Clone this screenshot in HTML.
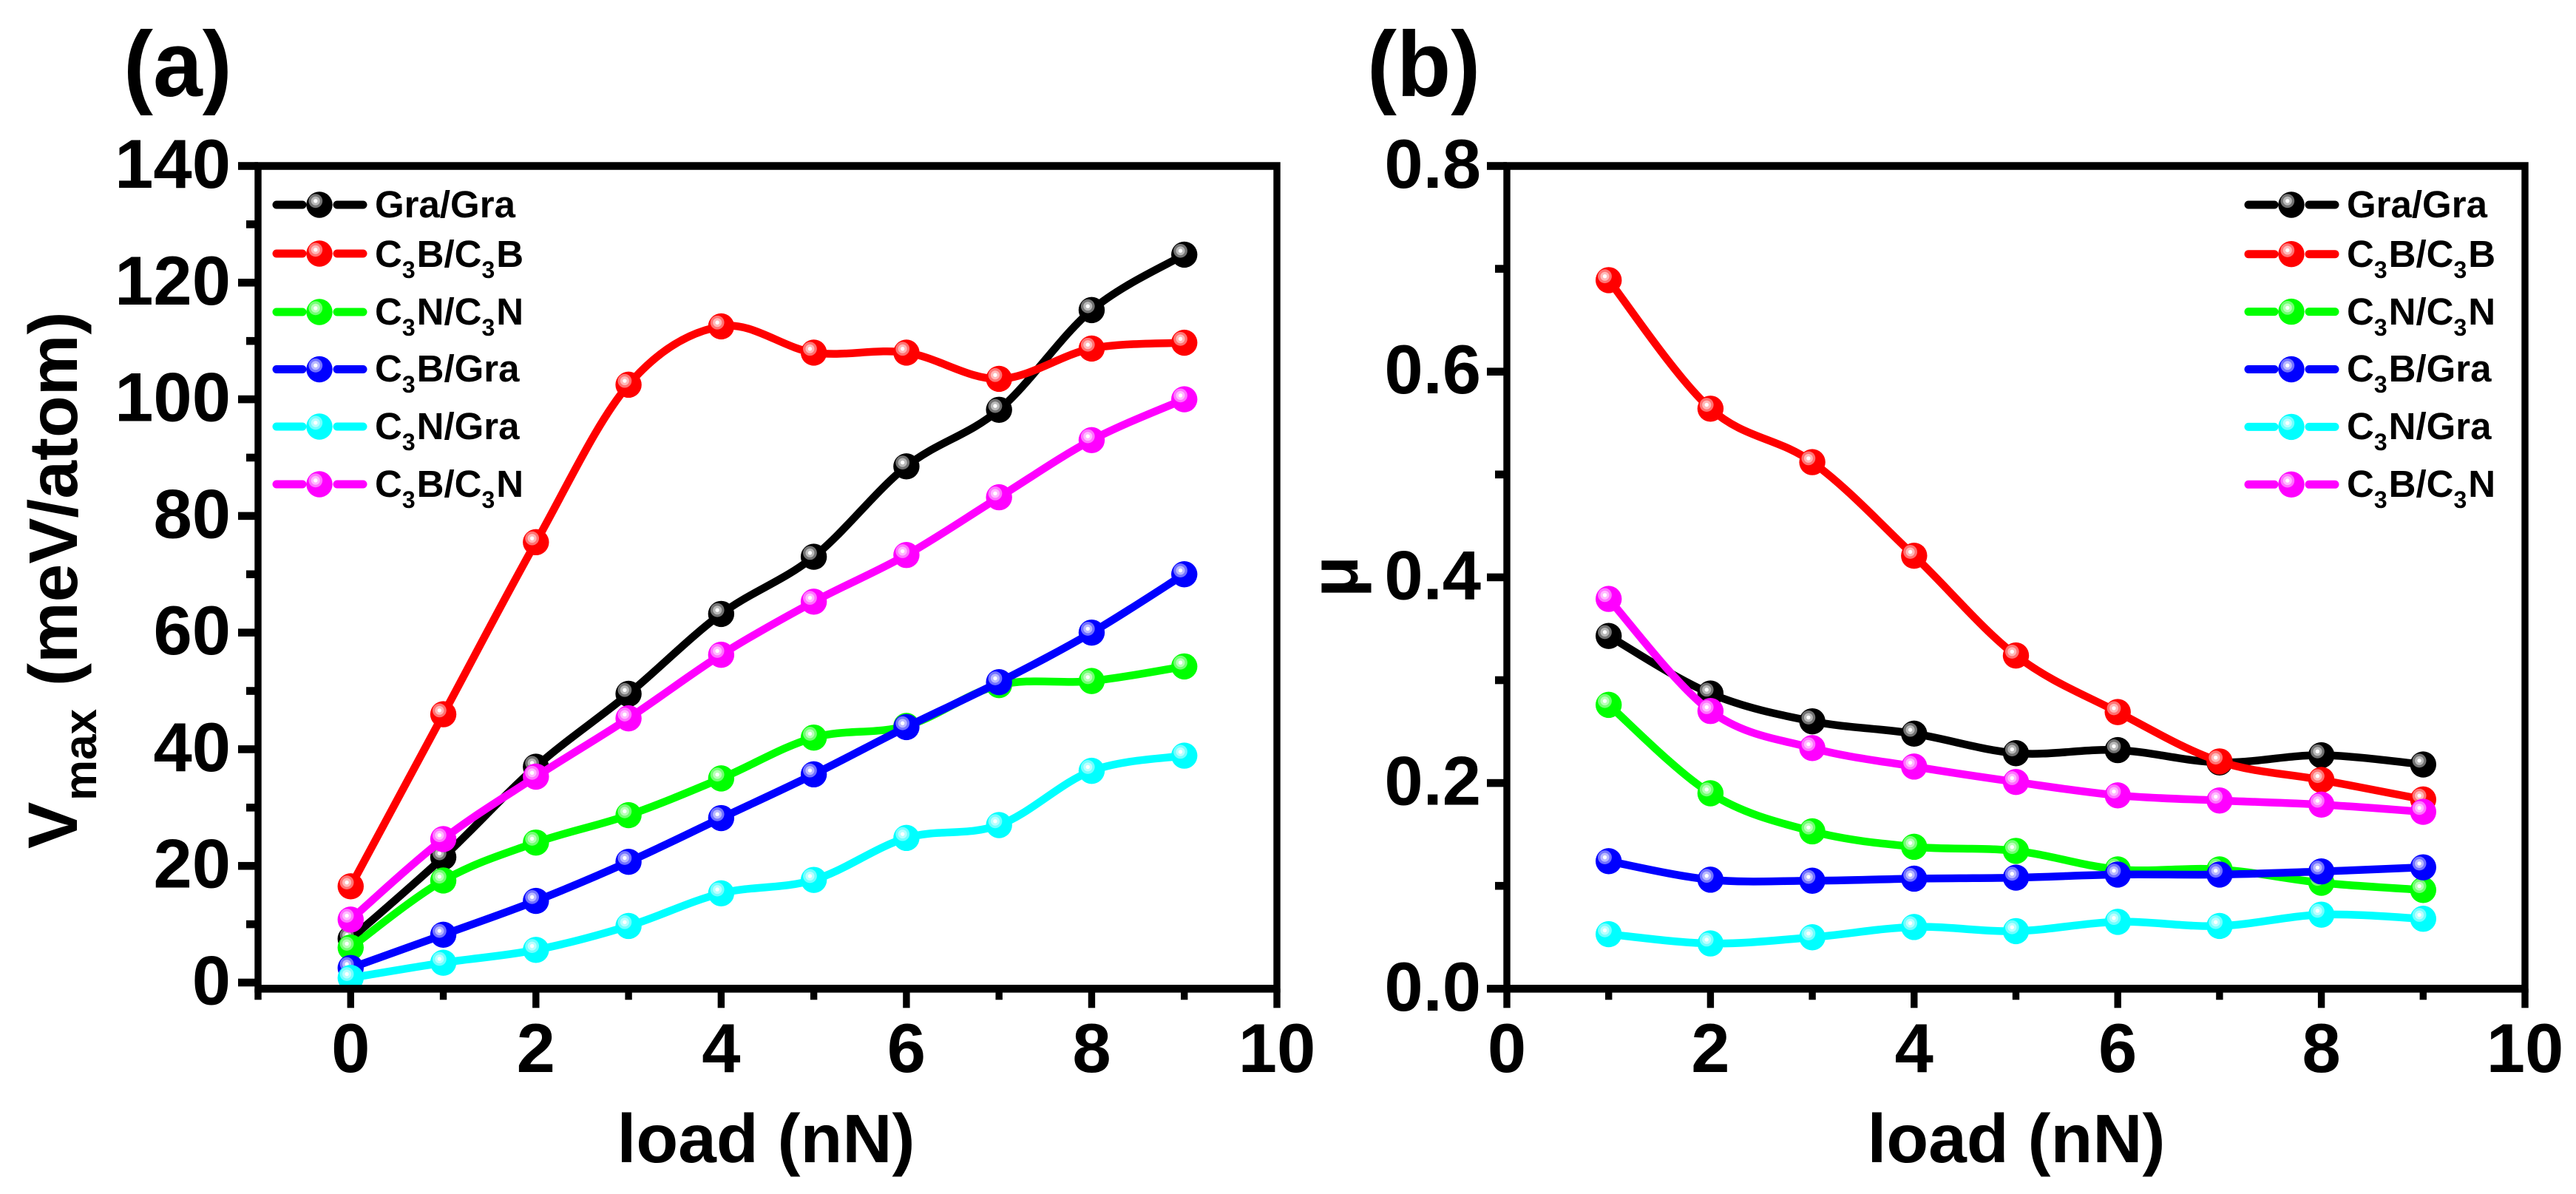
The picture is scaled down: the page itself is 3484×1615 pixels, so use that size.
<!DOCTYPE html>
<html lang="en">
<head>
<meta charset="utf-8">
<title>Vmax and friction coefficient versus load</title>
<style>
html,body{margin:0;padding:0;background:#fff;}
svg{display:block;}
text{font-family:"Liberation Sans",Arial,sans-serif;font-weight:700;fill:#000;}
</style>
</head>
<body>
<svg id="fig" xmlns="http://www.w3.org/2000/svg" width="3484" height="1615" viewBox="0 0 3484 1615">
<rect x="0" y="0" width="3484" height="1615" fill="#fff"/>
<text transform="translate(167,130) scale(0.96,1)" font-size="125">(a)</text>
<text transform="translate(1849,130) scale(0.96,1)" font-size="125">(b)</text>
<g>
<text transform="translate(104,1148) rotate(-90)" font-size="95">V</text>
<text transform="translate(130,1083) rotate(-90)" font-size="62">max</text>
<text transform="translate(104,928) rotate(-90)" font-size="93">(meV/atom)</text>
</g>
<text transform="translate(1836,780) rotate(-90)" font-size="92" text-anchor="middle">μ</text>
<text x="1036" y="1572" font-size="93" text-anchor="middle">load (nN)</text>
<text x="2727" y="1572" font-size="93" text-anchor="middle">load (nN)</text>
</svg>
<script>
const seriesNames = ["Gra/Gra", "C3B/C3B", "C3N/C3N", "C3B/Gra", "C3N/Gra", "C3B/C3N"];
const seriesColors = ["#000000", "#ff0000", "#00ff00", "#0000ff", "#00ffff", "#ff00ff"];

const loadA = [0, 1, 2, 3, 4, 5, 6, 7, 8, 9];
const vmaxGraGra = [7.5, 21.5, 37, 49.5, 63.2, 73, 88.5, 98.2, 115.3, 124.8];
const vmaxC3BC3B = [16.5, 46, 75.5, 102.5, 112.5, 108, 108, 103.5, 108.7, 109.7];
const vmaxC3NC3N = [6, 17.5, 24, 28.7, 35, 42, 44, 51, 51.7, 54.2];
const vmaxC3BGra = [2.5, 8.2, 14, 20.7, 28.2, 35.7, 43.8, 51.5, 60, 70];
const vmaxC3NGra = [0.8, 3.4, 5.6, 9.7, 15.3, 17.6, 24.8, 27, 36.3, 38.9];
const vmaxC3BC3N = [10.8, 24.6, 35.3, 45.3, 56.2, 65.3, 73.3, 83.2, 93, 100];

const loadB = [1, 2, 3, 4, 5, 6, 7, 8, 9];
const muGraGra = [0.343, 0.287, 0.26, 0.248, 0.229, 0.232, 0.22, 0.227, 0.218];
const muC3BC3B = [0.689, 0.564, 0.512, 0.421, 0.324, 0.269, 0.221, 0.203, 0.184];
const muC3NC3N = [0.276, 0.19, 0.153, 0.138, 0.134, 0.116, 0.116, 0.103, 0.096];
const muC3BGra = [0.124, 0.106, 0.105, 0.107, 0.108, 0.111, 0.111, 0.114, 0.118];
const muC3NGra = [0.053, 0.044, 0.05, 0.06, 0.056, 0.065, 0.061, 0.072, 0.068];
const muC3BC3N = [0.379, 0.27, 0.234, 0.216, 0.201, 0.188, 0.183, 0.179, 0.172];

const xTickValues = [0, 2, 4, 6, 8, 10];
const xTickLabels = ["0", "2", "4", "6", "8", "10"];
const yTickValuesA = [0, 20, 40, 60, 80, 100, 120, 140];
const yTickLabelsA = ["0", "20", "40", "60", "80", "100", "120", "140"];
const yTickValuesB = [0, 0.2, 0.4, 0.6, 0.8];
const yTickLabelsB = ["0.0", "0.2", "0.4", "0.6", "0.8"];

const NS = "http://www.w3.org/2000/svg";
const fig = document.getElementById("fig");

function mk(parent, tag, attrs) {
  const el = document.createElementNS(NS, tag);
  for (const k in attrs) { el.setAttribute(k, attrs[k]); }
  parent.appendChild(el);
  return el;
}

function smoothPath(pts) {
  let d = "M" + pts[0][0] + " " + pts[0][1];
  for (let i = 0; i < pts.length - 1; i++) {
    const p0 = pts[Math.max(i - 1, 0)];
    const p1 = pts[i];
    const p2 = pts[i + 1];
    const p3 = pts[Math.min(i + 2, pts.length - 1)];
    const c1x = p1[0] + (p2[0] - p0[0]) / 6;
    const c1y = p1[1] + (p2[1] - p0[1]) / 6;
    const c2x = p2[0] - (p3[0] - p1[0]) / 6;
    const c2y = p2[1] - (p3[1] - p1[1]) / 6;
    d += " C" + c1x + " " + c1y + " " + c2x + " " + c2y + " " + p2[0] + " " + p2[1];
  }
  return d;
}

function drawMarker(parent, cx, cy, color, name) {
  const g = mk(parent, "g", {});
  
  
  mk(g, "circle", {cx: cx, cy: cy, r: 17.7, fill: color});
  mk(g, "circle", {cx: cx - 5.2, cy: cy - 5.2, r: 9.4, fill: "#fff", "fill-opacity": 0.45});
  mk(g, "circle", {cx: cx - 5.2, cy: cy - 5.2, r: 6, fill: "#fff", "fill-opacity": 0.5});
  mk(g, "circle", {cx: cx - 5.2, cy: cy - 5.2, r: 2.7, fill: "#fff"});
}

function drawLegendLabel(parent, x, y, label) {
  const t = mk(parent, "text", {x: x, y: y, "font-size": 51});
  
  
  const parts = label.split(/(3)/);
  let shifted = false;
  parts.forEach(function (part) {
    if (!part && !shifted) { return; }
    const span = document.createElementNS(NS, "tspan");
    if (part === "3") {
      span.setAttribute("font-size", "32");
      span.setAttribute("dy", "15");
      shifted = true;
    } else if (shifted) {
      span.setAttribute("dy", "-15");
      span.setAttribute("dx", "2");
      shifted = false;
    }
    span.textContent = part;
    t.appendChild(span);
  });
}

function drawPanel(cfg) {
  const sx = function (v) { return cfg.xLeft + (v - cfg.xMin) * (cfg.xRight - cfg.xLeft) / (cfg.xMax - cfg.xMin); };
  const sy = function (v) { return cfg.y0 + (v - cfg.yVal0) * (cfg.y1 - cfg.y0) / (cfg.yVal1 - cfg.yVal0); };
  const panel = mk(fig, "g", {});
  
  

  cfg.series.forEach(function (vals, si) {
    const color = seriesColors[si];
    const sg = mk(panel, "g", {});
    
    
    const pts = vals.map(function (v, i) { return [sx(cfg.xs[i]), sy(v)]; });
    const line = mk(sg, "path", {d: smoothPath(pts), fill: "none", stroke: color, "stroke-width": 10.5, "stroke-linejoin": "round", "stroke-linecap": "round"});
    
    
    pts.forEach(function (p) { drawMarker(sg, p[0], p[1], color, "series-point"); });
  });

  const axes = mk(fig, "g", {});
  
  
  const top = cfg.frameTop;
  const bottom = cfg.frameBottom;
  const left = cfg.xLeft;
  const right = cfg.xRight;
  const frame = mk(axes, "path", {
    d: "M" + (left - 4.7) + " " + (top - 5.3) + "H" + (right + 4.7) + "V" + (bottom + 5.3) + "H" + (left - 4.7) + "Z" +
       "M" + (left + 4.7) + " " + (top + 5.3) + "V" + (bottom - 5.3) + "H" + (right - 4.7) + "V" + (top + 5.3) + "Z",
    fill: "#000", "fill-rule": "evenodd"
  });
  
  

  // x ticks
  for (let v = cfg.xMin; v <= cfg.xMax; v++) {
    const major = xTickValues.indexOf(v) >= 0;
    const tick = mk(axes, "rect", {x: sx(v) - 4.7, y: bottom, width: 9.4, height: major ? 26 : 15, fill: "#000"});
    
    
  }
  xTickValues.forEach(function (v, i) {
    const t = mk(axes, "text", {x: sx(v), y: 1450, "font-size": 94, "text-anchor": "middle"});
    
    
    t.textContent = xTickLabels[i];
  });

  // y ticks
  for (let k = 0; k < cfg.yTicks.length; k++) {
    const v = cfg.yTicks[k];
    const tick = mk(axes, "rect", {x: left - 27, y: sy(v) - 5.3, width: 27, height: 10.6, fill: "#000"});
    
    
    const t = mk(axes, "text", {x: cfg.labelRight, y: sy(v) + 29.5, "font-size": 94, "text-anchor": "end"});
    
    
    t.textContent = cfg.yLabels[k];
    if (k < cfg.yTicks.length - 1) {
      const minor = mk(axes, "rect", {x: left - 16, y: sy((v + cfg.yTicks[k + 1]) / 2) - 5.3, width: 16, height: 10.6, fill: "#000"});
      
      
    }
  }

  // legend
  const legend = mk(fig, "g", {});
  
  
  const lineYs = cfg.legendLineYs;
  seriesNames.forEach(function (label, i) {
    const entry = mk(legend, "g", {});
    
    
    const y = lineYs[i];
    const lx = cfg.legendX;
    const seg1 = mk(entry, "line", {x1: lx + 5, y1: y, x2: lx + 40, y2: y, stroke: seriesColors[i], "stroke-width": 11, "stroke-linecap": "round"});
    
    
    const seg2 = mk(entry, "line", {x1: lx + 87, y1: y, x2: lx + 122, y2: y, stroke: seriesColors[i], "stroke-width": 11, "stroke-linecap": "round"});
    
    
    drawMarker(entry, lx + 63, y, seriesColors[i], "legend-marker");
    drawLegendLabel(entry, lx + 138, cfg.legendBaselines[i], label);
  });
}

drawPanel({
  name: "panel-a",
  xs: loadA,
  series: [vmaxGraGra, vmaxC3BC3B, vmaxC3NC3N, vmaxC3BGra, vmaxC3NGra, vmaxC3BC3N],
  xMin: -1, xMax: 10, xLeft: 349, xRight: 1727,
  y0: 1329, yVal0: 0, y1: 224.5, yVal1: 140,
  frameTop: 224.5, frameBottom: 1337.3,
  yTicks: yTickValuesA, yLabels: yTickLabelsA, labelRight: 312,
  legendX: 369,
  legendLineYs: [277, 343, 422, 499.5, 577, 655],
  legendBaselines: [294, 361, 439, 516, 594, 672]
});

drawPanel({
  name: "panel-b",
  xs: loadB,
  series: [muGraGra, muC3BC3B, muC3NC3N, muC3BGra, muC3NGra, muC3BC3N],
  xMin: 0, xMax: 10, xLeft: 2038, xRight: 3415,
  y0: 1337.3, yVal0: 0, y1: 224.5, yVal1: 0.8,
  frameTop: 224.5, frameBottom: 1337.3,
  yTicks: yTickValuesB, yLabels: yTickLabelsB, labelRight: 2003,
  legendX: 3036,
  legendLineYs: [277, 343.7, 421.6, 499.5, 577.4, 655.3],
  legendBaselines: [294, 361, 439, 516, 594, 672]
});
</script>
</body>
</html>
